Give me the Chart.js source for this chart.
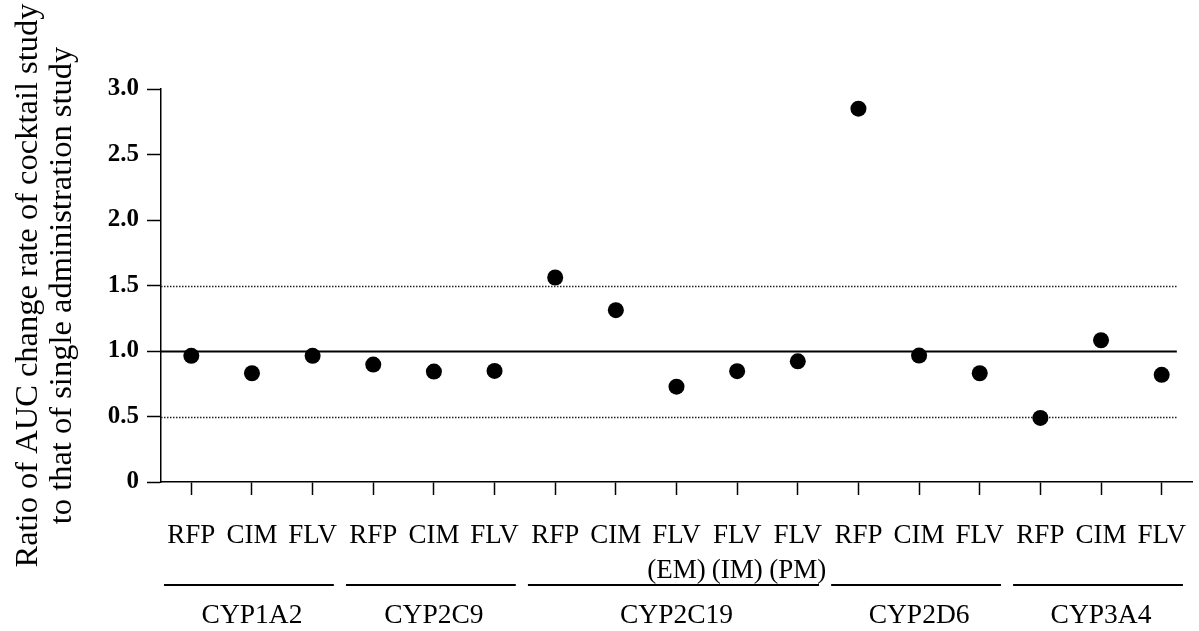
<!DOCTYPE html>
<html>
<head>
<meta charset="utf-8">
<script src="https://cdn.jsdelivr.net/npm/chart.js@4.4.1/dist/chart.umd.min.js"></script>
<style>
  html, body { margin: 0; padding: 0; background: #fff; }
  #wrap { width: 1199px; height: 631px; }
</style>
</head>
<body>
<div id="wrap"><canvas id="c" width="1199" height="631"></canvas></div>
<script>
const categoryLabels = [['RFP'],['CIM'],['FLV'],['RFP'],['CIM'],['FLV'],['RFP'],['CIM'],['FLV','(EM)'],['FLV','(IM)'],['FLV','(PM)'],['RFP'],['CIM'],['FLV'],['RFP'],['CIM'],['FLV']];
const ratios = [0.963, 0.830, 0.963, 0.896, 0.843, 0.848, 1.561, 1.312, 0.728, 0.846, 0.921, 2.850, 0.965, 0.830, 0.489, 1.082, 0.818];
const groupNames = ['CYP1A2', 'CYP2C9', 'CYP2C19', 'CYP2D6', 'CYP3A4'];
const groupFirst = [0, 3, 6, 11, 14];
const groupLast = [2, 5, 10, 13, 16];
const yTickLabels = ['0', '0.5', '1.0', '1.5', '2.0', '2.5', '3.0'];
const refValues = [0.5, 1.0, 1.5];
const refDotted = [true, false, true];

const FONT = "'Liberation Serif', 'Times New Roman', serif";
Chart.defaults.font.family = FONT;
Chart.defaults.color = '#000';

const extras = {
  id: 'extras',
  beforeDatasetsDraw(chart) {
    const ctx = chart.ctx, x = chart.scales.x, y = chart.scales.y;
    const left = chart.chartArea.left;
    const right = x.getPixelForValue(ratios.length - 1 + 0.25);
    ctx.save();
    refValues.forEach((v, i) => {
      const py = Math.round(y.getPixelForValue(v)) + 0.5;
      ctx.beginPath();
      ctx.strokeStyle = refDotted[i] ? '#222' : '#000';
      ctx.lineWidth = refDotted[i] ? 1.5 : 2;
      ctx.setLineDash(refDotted[i] ? [1.5, 1.5] : []);
      ctx.moveTo(left, py);
      ctx.lineTo(right, py);
      ctx.stroke();
    });
    ctx.restore();
  },
  afterDraw(chart) {
    const ctx = chart.ctx, x = chart.scales.x;
    const base = chart.chartArea.bottom;
    ctx.save();
    ctx.strokeStyle = '#000';
    ctx.lineWidth = 2;
    ctx.fillStyle = '#000';
    ctx.font = "27.5px " + FONT;
    ctx.textAlign = 'center';
    ctx.textBaseline = 'middle';
    groupNames.forEach((g, i) => {
      const x1 = x.getPixelForValue(groupFirst[i] - 0.45);
      const x2 = x.getPixelForValue(groupLast[i] + 0.35);
      ctx.beginPath();
      ctx.moveTo(x1, base + 103);
      ctx.lineTo(x2, base + 103);
      ctx.stroke();
      ctx.fillText(g, (x.getPixelForValue(groupFirst[i]) + x.getPixelForValue(groupLast[i])) / 2, base + 134);
    });
    ctx.restore();
  }
};

new Chart(document.getElementById('c'), {
  type: 'line',
  data: {
    labels: categoryLabels,
    datasets: [{
      data: ratios,
      showLine: false,
      pointRadius: 8,
      pointHoverRadius: 8,
      pointBackgroundColor: '#000',
      pointBorderColor: '#000',
      pointBorderWidth: 0
    }]
  },
  options: {
    responsive: false,
    animation: false,
    events: [],
    layout: { autoPadding: false, padding: { top: 89, right: 7, bottom: 0, left: 0 } },
    plugins: { legend: { display: false }, tooltip: { enabled: false } },
    scales: {
      x: {
        type: 'category',
        offset: true,
        grid: { drawOnChartArea: false, offset: false, tickLength: 13, tickWidth: 1.5, tickColor: '#000' },
        border: { color: '#000', width: 1.5 },
        ticks: {
          autoSkip: false, maxRotation: 0, minRotation: 0, padding: 23,
          font: { size: 27, lineHeight: 1.3 }, color: '#000'
        },
        afterFit(s) { s.height = 149; s.paddingLeft = 0; s.paddingRight = 0; }
      },
      y: {
        min: 0, max: 3,
        grid: { drawOnChartArea: false, tickLength: 14, tickWidth: 1.5, tickColor: '#000' },
        border: { color: '#000', width: 1.5 },
        ticks: {
          stepSize: 0.5, padding: 8,
          font: { size: 25, weight: 'bold' }, color: '#000',
          callback: (v, i) => yTickLabels[i]
        },
        title: {
          display: true,
          text: ['Ratio of AUC change rate of cocktail study', 'to that of single administration study'],
          font: { size: 32.5, lineHeight: 1.06 },
          color: '#000',
          padding: { top: 11, bottom: 0 }
        },
        afterFit(s) { s.width = 161; s.paddingTop = 0; s.paddingBottom = 0; }
      }
    }
  },
  plugins: [extras]
});
</script>
</body>
</html>
